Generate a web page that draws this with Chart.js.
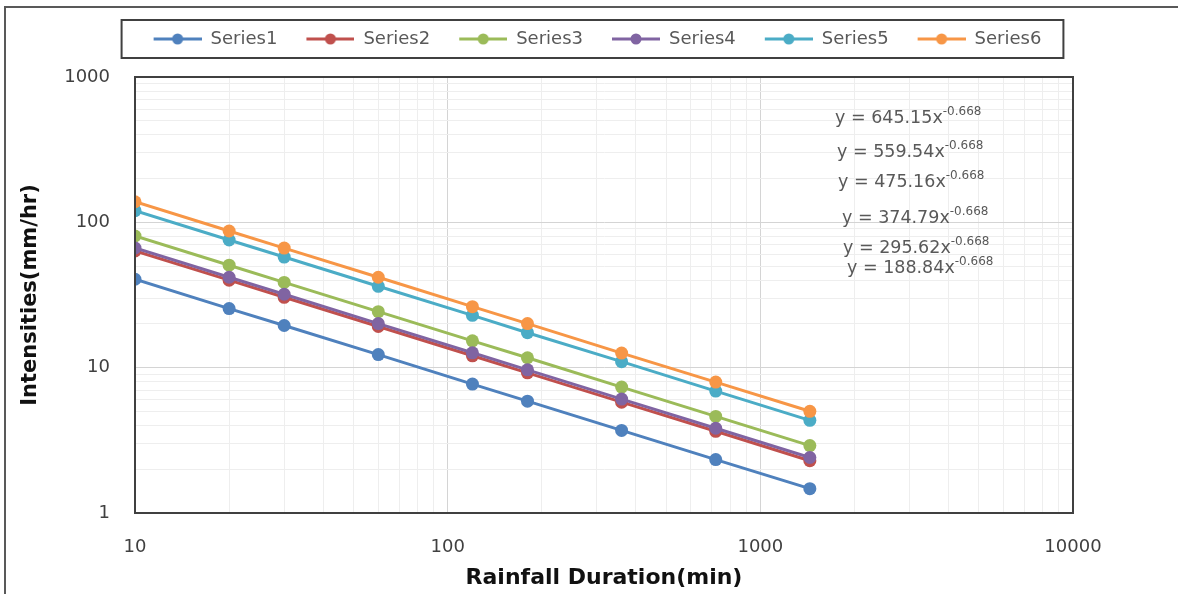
<!DOCTYPE html>
<html><head><meta charset="utf-8">
<script src="https://cdn.jsdelivr.net/npm/chart.js@4/dist/chart.umd.min.js"></script>
<style>html,body{margin:0;padding:0;background:#fff;}</style>
</head><body>
<canvas id="c" width="1178" height="594"></canvas>
<script>
// ---- data ----
const durations = [10, 20, 30, 60, 120, 180, 360, 720, 1440];
const seriesNames = ['Series1', 'Series2', 'Series3', 'Series4', 'Series5', 'Series6'];
const series1 = [40.6, 25.5, 19.5, 12.3, 7.71, 5.88, 3.70, 2.33, 1.47];
const series2 = [63.5, 40.0, 30.5, 19.2, 12.07, 9.21, 5.79, 3.65, 2.29];
const series3 = [80.5, 50.7, 38.6, 24.3, 15.3, 11.7, 7.35, 4.62, 2.91];
const series4 = [66.6, 41.9, 32.0, 20.1, 12.66, 9.66, 6.08, 3.83, 2.41];
const series5 = [120.2, 75.6, 57.7, 36.3, 22.9, 17.4, 11.0, 6.90, 4.34];
const series6 = [138.6, 87.2, 66.5, 41.9, 26.3, 20.1, 12.6, 7.96, 5.01];
const xTickLabels = [10, 100, 1000, 10000];
const yTickLabels = [1, 10, 100, 1000];
const equationCoefs = ['645.15', '559.54', '475.16', '374.79', '295.62', '188.84'];
const equationExponent = '-0.668';
const colors = ['#4F81BD', '#C0504D', '#9BBB59', '#8064A2', '#4BACC6', '#F79646'];

const allSeries = [series1, series2, series3, series4, series5, series6];

function makeIcon(color) {
  const cv = document.createElement('canvas');
  cv.width = 58; cv.height = 14;
  const c = cv.getContext('2d');
  c.strokeStyle = color; c.lineWidth = 3;
  c.beginPath(); c.moveTo(10, 7); c.lineTo(58, 7); c.stroke();
  c.fillStyle = color;
  c.beginPath(); c.arc(34, 7, 5.5, 0, Math.PI * 2); c.fill();
  return cv;
}
const legendIcons = colors.map(makeIcon);

function logTicks(min, max) {
  const t = [];
  for (let d = min; d < max; d *= 10) {
    for (let k = 1; k <= 9; k++) t.push({ value: d * k });
  }
  t.push({ value: max });
  return t;
}
function isMajor(v) {
  const l = Math.log10(v);
  return Math.abs(l - Math.round(l)) < 1e-9;
}

const decor = {
  id: 'decor',
  afterLayout(chart) {
    const lg = chart.legend;
    if (lg) { lg.left = 7; lg.right = 1178; lg.top -= 19; lg.bottom -= 19; }
  },
  afterDraw(chart) {
    const ctx = chart.ctx;
    const a = chart.chartArea;
    ctx.save();
    // outer frame (left + top visible)
    ctx.strokeStyle = '#595959'; ctx.lineWidth = 2;
    ctx.beginPath(); ctx.moveTo(5, 594); ctx.lineTo(5, 7); ctx.lineTo(1178, 7); ctx.stroke();
    // plot frame
    ctx.strokeStyle = '#404040'; ctx.lineWidth = 2;
    ctx.strokeRect(a.left, a.top, a.right - a.left, a.bottom - a.top);
    // legend frame
    const hb = chart.legend.legendHitBoxes;
    if (hb && hb.length) {
      const x0 = hb[0].left - 22;
      const last = hb[hb.length - 1];
      const x1 = last.left + last.width + 22;
      const y0 = hb[0].top - 10, y1 = hb[0].top + hb[0].height + 10;
      ctx.strokeStyle = '#404040'; ctx.lineWidth = 2;
      ctx.strokeRect(x0, y0, x1 - x0, y1 - y0);
    }
    // trendline equations
    const eqPos = [[835, 118], [837, 152], [838, 182], [842, 218], [843, 248], [847, 268]];
    ctx.fillStyle = '#595959';
    ctx.textBaseline = 'middle';
    ctx.textAlign = 'left';
    equationCoefs.forEach((c, i) => {
      const [x, y] = eqPos[i];
      const main = 'y = ' + c + 'x';
      ctx.font = '17.5px "DejaVu Sans"';
      ctx.fillText(main, x, y);
      const w = ctx.measureText(main).width;
      ctx.font = '12px "DejaVu Sans"';
      ctx.fillText(equationExponent, x + w, y - 6);
    });
    ctx.restore();
  }
};

const datasets = allSeries.map((s, i) => ({
  label: seriesNames[i],
  data: durations.map((d, j) => ({ x: d, y: s[j] })),
  borderColor: colors[i],
  backgroundColor: colors[i],
  pointBackgroundColor: colors[i],
  pointBorderColor: colors[i],
  borderWidth: 3,
  pointRadius: 6.5,
  pointBorderWidth: 0,
  tension: 0,
  order: 5 - i
}));

new Chart(document.getElementById('c'), {
  type: 'line',
  data: { datasets },
  plugins: [decor],
  options: {
    responsive: false,
    animation: false,
    devicePixelRatio: 1,
    layout: { padding: { top: 30, right: 105, bottom: 0, left: 0 } },
    plugins: {
      tooltip: { enabled: false },
      legend: {
        position: 'top',
        labels: {
          usePointStyle: true,
          pointStyleWidth: 58,
          padding: 19,
          color: '#595959',
          font: { family: '"DejaVu Sans"', size: 18 },
          generateLabels: chart => chart.data.datasets.map((ds, i) => ({
            text: ds.label,
            pointStyle: legendIcons[i],
            fillStyle: colors[i],
            strokeStyle: colors[i],
            lineWidth: 0,
            hidden: false,
            datasetIndex: i,
            fontColor: '#595959'
          }))
        }
      }
    },
    scales: {
      x: {
        type: 'logarithmic',
        min: 10, max: 10000,
        afterBuildTicks: s => { s.ticks = logTicks(10, 10000); },
        afterFit: s => { s.height = 81; },
        ticks: {
          autoSkip: false, maxRotation: 0, minRotation: 0,
          padding: 24,
          color: '#404040',
          font: { family: '"DejaVu Sans"', size: 18 },
          callback: v => xTickLabels.includes(v) ? String(v) : ''
        },
        grid: {
          drawTicks: false,
          color: c => (c.tick && isMajor(c.tick.value)) ? '#d4d4d4' : '#eeeeee',
          lineWidth: 1
        },
        border: { display: true, color: '#404040', width: 2 },
        title: {
          display: true, text: 'Rainfall Duration(min)', color: '#111',
          font: { family: '"DejaVu Sans"', size: 22, weight: 'bold' },
          padding: { top: 0, bottom: 3 }
        }
      },
      y: {
        type: 'logarithmic',
        min: 1, max: 1000,
        afterBuildTicks: s => { s.ticks = logTicks(1, 1000); },
        afterFit: s => { s.width = 135; },
        ticks: {
          autoSkip: false,
          padding: 25,
          color: '#404040',
          font: { family: '"DejaVu Sans"', size: 18 },
          callback: v => yTickLabels.includes(v) ? String(v) : ''
        },
        grid: {
          drawTicks: false,
          color: c => (c.tick && isMajor(c.tick.value)) ? '#d4d4d4' : '#eeeeee',
          lineWidth: 1
        },
        border: { display: true, color: '#404040', width: 2 },
        title: {
          display: true, text: 'Intensities(mm/hr)', color: '#111',
          font: { family: '"DejaVu Sans"', size: 21, weight: 'bold' },
          padding: { top: 18, bottom: 0 }
        }
      }
    }
  }
});
</script>
</body></html>
